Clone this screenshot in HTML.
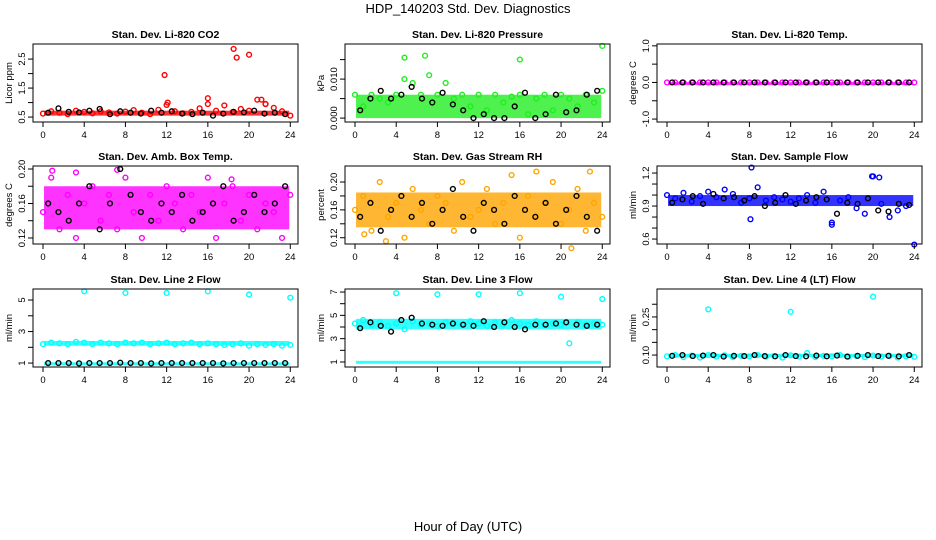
<!DOCTYPE html>
<html><head><meta charset="utf-8"><style>
body{margin:0;background:#fff;}
svg{display:block;font-family:"Liberation Sans",Arial,sans-serif;}
</style></head><body>
<svg id="chart" width="936" height="540" viewBox="0 0 936 540" xmlns="http://www.w3.org/2000/svg">
<rect width="936" height="540" fill="#fff"/>
<text x="468" y="13" text-anchor="middle" font-size="13">HDP_140203  Std. Dev. Diagnostics</text>
<text x="468" y="531" text-anchor="middle" font-size="13">Hour of Day (UTC)</text>
</svg>
<script>
const hoursColor=[0,0.8,1.6,2.4,3.2,4,4.8,5.6,6.4,7.2,8,8.8,9.6,10.4,11.2,12,12.8,13.6,14.4,15.2,16,16.8,17.6,18.4,19.2,20,20.8,21.6,22.4,23.2,24];
const hoursBlack=[0.5,1.5,2.5,3.5,4.5,5.5,6.5,7.5,8.5,9.5,10.5,11.5,12.5,13.5,14.5,15.5,16.5,17.5,18.5,19.5,20.5,21.5,22.5,23.5];
const xTicks=[0,4,8,12,16,20,24];

const titles=["Stan. Dev. Li-820 CO2","Stan. Dev. Li-820 Pressure","Stan. Dev. Li-820 Temp.","Stan. Dev. Amb. Box Temp.","Stan. Dev. Gas Stream RH","Stan. Dev. Sample Flow","Stan. Dev. Line 2 Flow","Stan. Dev. Line 3 Flow","Stan. Dev. Line 4 (LT) Flow"];
const yTitles=["Licor ppm","kPa","degrees C","degrees C","percent","ml/min","ml/min","ml/min","ml/min"];
const colors=["#ff0000","#22ee22","#ff00ff","#ff00ff","#ffa500","#0000ff","#00ffff","#00ffff","#00ffff"];
const yDomains=[[0.33,3.02],[-0.001,0.019],[-1.08,1.05],[0.113,0.2035],[0.111,0.223],[0.555,1.264],[0.75,5.7],[0.57,7.26],[0.053,0.36]];
const yTicks=[[0.5,1,1.5,2,2.5],[0,0.005,0.01,0.015],[-1,-0.5,0,0.5,1],[0.12,0.14,0.16,0.18,0.2],[0.12,0.14,0.16,0.18,0.2],[0.6,0.7,0.8,0.9,1,1.1,1.2],[1,2,3,4,5],[1,2,3,4,5,6,7],[0.1,0.15,0.2,0.25,0.3]];
const yTickLabels=[["0.5","","1.5","","2.5"],["0.000","","0.010",""],["-1.0","","0.0","","1.0"],["0.12","","0.16","","0.20"],["0.12","","0.16","","0.20"],["0.6","","","0.9","","","1.2"],["1","","3","","5"],["1","","3","","5","","7"],["0.10","","","0.25",""]];
const bands=[[[0.55,0.72]],[[0,0.006]],[[-0.01,0.01]],[[0.13,0.18]],[[0.135,0.185]],[[0.9,1.0]],[[2.1,2.4],[0.92,1.05]],[[3.8,4.7],[0.85,1.1]],[[0.092,0.105]]];

const colorVals=[
[0.62,0.7,0.65,0.6,0.72,0.68,0.63,0.7,0.66,0.62,0.69,0.74,0.65,0.6,0.75,0.92,0.7,0.63,0.68,0.8,0.95,0.72,0.9,0.67,0.78,0.72,1.1,0.95,0.82,0.7,0.55],
[0.006,0.003,0.006,0.005,0.004,0.006,0.010,0.009,0.006,0.011,0.006,0.009,0.005,0.006,0.003,0.006,0.002,0.006,0.004,0.0055,0.006,0.001,0.005,0.006,0.002,0.006,0.005,0.003,0.006,0.004,0.007],
[0,0,0,0,0,0,0,0,0,0,0,0,0,0,0,0,0,0,0,0,0,0,0,0,0,0,0,0,0,0,0],
[0.15,0.19,0.13,0.17,0.12,0.16,0.18,0.14,0.17,0.13,0.19,0.15,0.12,0.17,0.14,0.18,0.16,0.13,0.17,0.15,0.19,0.12,0.16,0.18,0.14,0.17,0.13,0.16,0.15,0.12,0.17],
[0.16,0.18,0.13,0.2,0.15,0.17,0.12,0.19,0.16,0.14,0.18,0.17,0.13,0.2,0.15,0.16,0.19,0.14,0.17,0.21,0.12,0.18,0.15,0.17,0.2,0.14,0.16,0.19,0.13,0.17,0.15],
[1.0,0.97,1.02,0.94,0.99,1.03,0.98,1.05,1.01,0.93,0.97,1.07,0.95,0.98,0.96,0.94,0.97,1.0,0.93,1.03,0.75,0.95,0.98,0.88,0.83,1.17,0.92,0.8,0.86,0.9,0.55],
[2.2,2.3,2.25,2.2,2.35,2.3,2.2,2.3,2.25,2.2,2.3,2.25,2.3,2.2,2.25,2.3,2.2,2.25,2.3,2.2,2.25,2.2,2.15,2.2,2.25,2.1,2.2,2.15,2.2,2.1,2.15],
[4.3,4.6,4.2,4.4,4.1,4.3,3.8,4.5,4.2,4.3,4.1,4.4,4.3,4.2,4.5,4.3,4.1,4.4,4.2,4.6,4.3,4.2,4.5,4.2,4.3,4.2,2.6,4.4,4.2,4.3,4.2],
[0.095,0.1,0.092,0.098,0.09,0.1,0.094,0.099,0.092,0.097,0.095,0.1,0.093,0.096,0.09,0.099,0.094,0.108,0.092,0.097,0.095,0.1,0.093,0.096,0.092,0.098,0.094,0.097,0.09,0.095,0.093]
];
const blackVals=[
[0.65,0.8,0.68,0.66,0.72,0.78,0.6,0.7,0.65,0.62,0.72,0.65,0.7,0.62,0.6,0.65,0.55,0.62,0.68,0.66,0.72,0.62,0.65,0.6],
[0.002,0.005,0.007,0.005,0.006,0.008,0.005,0.004,0.0065,0.0035,0.002,0,0.001,0,0,0.003,0.0065,0,0.001,0.006,0.0015,0.002,0.006,0.007],
[0,0,0,0,0,0,0,0,0,0,0,0,0,0,0,0,0,0,0,0,0,0,0,0],
[0.16,0.15,0.14,0.16,0.18,0.13,0.16,0.20,0.17,0.15,0.14,0.16,0.15,0.17,0.14,0.15,0.16,0.18,0.14,0.15,0.17,0.15,0.16,0.18],
[0.15,0.17,0.13,0.16,0.18,0.15,0.17,0.14,0.16,0.19,0.15,0.13,0.17,0.16,0.14,0.18,0.16,0.15,0.17,0.14,0.16,0.18,0.15,0.13],
[0.93,0.96,0.99,0.92,1.01,0.97,0.98,0.95,0.99,0.9,0.93,1.0,0.92,0.95,0.98,0.96,0.83,0.93,0.92,0.97,0.86,0.85,0.92,0.91],
[1.0,1.0,1.0,0.98,1.0,1.0,1.0,1.02,1.0,1.0,0.98,1.0,1.0,1.0,1.0,1.0,1.0,0.98,1.0,1.0,1.0,1.0,1.0,1.0],
[3.9,4.4,4.1,3.6,4.6,4.8,4.3,4.2,4.1,4.3,4.2,4.1,4.5,4.0,4.4,4.0,3.8,4.2,4.2,4.3,4.4,4.2,4.1,4.2],
[0.097,0.1,0.096,0.098,0.1,0.094,0.097,0.096,0.1,0.096,0.095,0.1,0.096,0.095,0.098,0.095,0.098,0.094,0.097,0.1,0.096,0.097,0.095,0.1]
];
const outlierX=[[11.8,12.1,16,18.5,18.8,20,21.2,21.6],[4.8,6.8,16,24],[],[0.9,3.2,7.2,18.3],[0.9,3,17.6,22.8,21],[8.2,19.9,20.6,8.1,16],[4,8,12,16,20,24],[4,8,12,16,20,24],[4,12,20]];
const outlierY=[[1.95,1.0,1.15,2.85,2.55,2.65,1.1,0.95],[0.0155,0.016,0.015,0.0185],[],[0.198,0.196,0.199,0.188],[0.125,0.115,0.215,0.215,0.105],[1.25,1.17,1.16,0.78,0.73],[5.55,5.45,5.45,5.55,5.35,5.15],[6.9,6.8,6.8,6.9,6.6,6.4],[0.28,0.27,0.33]];

const colX=[33,345,657], rowY=[44,166,289], W=265, H=78, xDom=[-0.97,24.75];
const svg=document.getElementById('chart');
const NS="http://www.w3.org/2000/svg";
function mk(tag,attrs,parent){const e=document.createElementNS(NS,tag);for(const k in attrs)e.setAttribute(k,attrs[k]);parent.appendChild(e);return e;}

for(let p=0;p<9;p++){
  const x0=colX[p%3], y0=rowY[Math.floor(p/3)];
  const dom=yDomains[p];
  const sx=v=>x0+(v-xDom[0])/(xDom[1]-xDom[0])*W;
  const sy=v=>y0+H-(v-dom[0])/(dom[1]-dom[0])*H;
  const g=mk('g',{},svg);
  
  
  const t=mk('text',{x:x0+W/2,y:y0-6,'text-anchor':'middle','font-size':'10.5','font-weight':'bold'},g);
  t.textContent=titles[p];
  
  
  const yt=mk('text',{transform:`translate(${x0-21},${y0+H/2}) rotate(-90)`,'text-anchor':'middle','font-size':'9.5'},g);
  yt.textContent=yTitles[p];
  
  
  const clip=mk('g',{},g);
  bands[p].forEach(b=>{
    const r=mk('rect',{x:sx(0.1),y:sy(b[1]),width:sx(23.9)-sx(0.1),height:Math.max(3,sy(b[0])-sy(b[1])),fill:colors[p],opacity:'0.8'},clip);
    
    
  });
  hoursColor.forEach((h,i)=>{
    const c=mk('circle',{cx:sx(h),cy:sy(colorVals[p][i]),r:2.4,fill:'none',stroke:colors[p],'stroke-width':1.4},g);
    
    
  });
  outlierX[p].forEach((h,i)=>{
    const c=mk('circle',{cx:sx(h),cy:sy(outlierY[p][i]),r:2.4,fill:'none',stroke:colors[p],'stroke-width':1.4},g);
    
    
  });
  hoursBlack.forEach((h,i)=>{
    const c=mk('circle',{cx:sx(h),cy:sy(blackVals[p][i]),r:2.4,fill:'none',stroke:'#000','stroke-width':1.4},g);
    
    
  });
  const box=mk('rect',{x:x0,y:y0,width:W,height:H,fill:'none',stroke:'#000','stroke-width':1},g);
  
  
  xTicks.forEach(v=>{
    mk('line',{x1:sx(v),x2:sx(v),y1:y0+H,y2:y0+H+5,stroke:'#000'},g);
    const l=mk('text',{x:sx(v),y:y0+H+16,'text-anchor':'middle','font-size':'9.5'},g);
    l.textContent=v;
    
    
  });
  yTicks[p].forEach((v,i)=>{
    mk('line',{x1:x0-5,x2:x0,y1:sy(v),y2:sy(v),stroke:'#000'},g);
    if(yTickLabels[p][i]){
      const l=mk('text',{transform:`translate(${x0-8},${sy(v)}) rotate(-90)`,'text-anchor':'middle','font-size':'9.5'},g);
      l.textContent=yTickLabels[p][i];
      
      
    }
  });
}
</script>
</body></html>
